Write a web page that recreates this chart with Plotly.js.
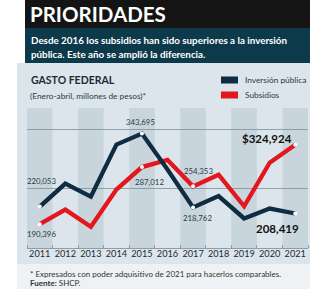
<!DOCTYPE html>
<html><head><meta charset="utf-8">
<script src="https://cdn.plot.ly/plotly-3.0.1.min.js"></script>
<style>html,body{margin:0;padding:0;background:#fff}#c{width:310px;height:289px}</style>
</head><body><div id="c"></div>
<script>
const years = [2011,2012,2013,2014,2015,2016,2017,2018,2019,2020,2021];
const inversion = [220053,259000,237000,325000,343695,283000,218762,238000,200000,216700,208419];
const subsidios = [190396,215000,186000,249000,287012,299000,254353,274000,220500,294500,324924];
const labeledIdx = [0,4,6,10];
const yearLabels = years.map(String);

const W=310,H=289,ML=27,MR=2,MT=108,MB=41;
const PW=W-ML-MR, PH=H-MT-MB;
const px=p=>(p-ML)/PW, py=p=>(H-MB-p)/PH;
const NAVY='#0f2d42', RED='#e3171e';
const F='Lato, "Open Sans", sans-serif';
const fmt=v=>v.toLocaleString('en-US');

const shapes=[
 {type:'rect',xref:'paper',yref:'paper',x0:px(17),x1:px(310),y0:py(289),y1:py(63),fillcolor:'#eef2f4',line:{width:0},layer:'below'},
 {type:'rect',xref:'paper',yref:'paper',x0:px(17),x1:px(310),y0:py(264),y1:py(63),fillcolor:'#dce5eb',line:{width:0},layer:'below'},
 {type:'rect',xref:'paper',yref:'paper',x0:px(25),x1:px(310),y0:py(28),y1:py(0),fillcolor:'#141414',line:{width:0},layer:'below'},
 {type:'rect',xref:'paper',yref:'paper',x0:px(25),x1:px(310),y0:py(63),y1:py(28),fillcolor:'#0d3a4b',line:{width:0},layer:'below'},
];
years.forEach((y,i)=>{ if(i%2===0) shapes.push({type:'rect',xref:'x',yref:'paper',x0:y-0.5,x1:y+0.5,y0:0,y1:1,fillcolor:'#c8d5dd',line:{width:0},layer:'below'}); });
function pill(x0,x1,yc,color){shapes.push({type:'line',xref:'paper',yref:'paper',x0:px(x0),x1:px(x1),y0:py(yc),y1:py(yc),line:{color:color,width:7}});}
pill(221,238,80,NAVY); pill(221,238,95,RED);

const ann=[
 {text:'<b>PRIORIDADES</b>',x:px(28),y:py(14),font:{size:20.5,color:'#fff',family:F,weight:900}},
 {text:'<b>Desde 2016 los subsidios han sido superiores a la inversión</b>',x:px(29),y:py(40),font:{size:9.8,color:'#fff',family:F}},
 {text:'<b>pública. Este año se amplió la diferencia.</b>',x:px(29),y:py(54),font:{size:9.8,color:'#fff',family:F}},
 {text:'<b>GASTO FEDERAL</b>',x:px(29),y:py(80),font:{size:10.5,color:'#1b2a33',family:F}},
 {text:'(Enero-abril, millones de pesos)*',x:px(28),y:py(96),font:{size:8.3,color:'#2a3a44',family:F}},
 {text:'Inversión pública',x:px(243),y:py(80),font:{size:8.3,color:'#2a3a44',family:F}},
 {text:'Subsidios',x:px(243),y:py(95),font:{size:8.3,color:'#2a3a44',family:F}},
 {text:'* Expresados con poder adquisitivo de 2021 para hacerlos comparables.',x:px(28),y:py(274),font:{size:8,color:'#333',family:F}},
 {text:'<b>Fuente:</b> SHCP.',x:px(28),y:py(283),font:{size:8,color:'#333',family:F}},
].map(a=>Object.assign({xref:'paper',yref:'paper',xanchor:'left',yanchor:'middle',showarrow:false},a));

const lab=(i,series,dy,dx,big)=>({xref:'x',yref:'y',x:years[i],y:series[i],xshift:dx,yshift:dy,showarrow:false,
 text:big?('<b>'+(big==='$'?'$':'')+fmt(series[i])+'</b>'):fmt(series[i]),
 font:{size:big?11.5:7.8,color:big?'#111':'#2a3a44',family:F}});
ann.push(lab(0,inversion,26,2), lab(0,subsidios,-10,2), lab(4,inversion,12,-1), lab(4,subsidios,-15,8),
 lab(6,subsidios,15,5), lab(6,inversion,-11,4), lab(10,subsidios,6,-28,'$'), lab(10,inversion,-15,-18,'b'));

const data=[
 {x:years,y:subsidios,type:'scatter',mode:'lines',line:{color:RED,width:4.3},hoverinfo:'skip'},
 {x:years,y:inversion,type:'scatter',mode:'lines',line:{color:NAVY,width:4.3},hoverinfo:'skip'},
 {x:labeledIdx.map(i=>years[i]).concat(labeledIdx.map(i=>years[i])),y:labeledIdx.map(i=>inversion[i]).concat(labeledIdx.map(i=>subsidios[i])),
  type:'scatter',mode:'markers',marker:{color:'#fff',size:4},hoverinfo:'skip'}
];
const layout={width:W,height:H,margin:{l:ML,r:MR,t:MT,b:MB},paper_bgcolor:'#fff',plot_bgcolor:'rgba(0,0,0,0)',showlegend:false,
 xaxis:{range:[2010.5,2021.5],tickvals:years,ticktext:yearLabels,ticks:'',showgrid:false,zeroline:false,showline:true,linecolor:'#8d9ca6',linewidth:1,
   ticklabelstandoff:-3,
   tickfont:{size:9.2,color:'#1b2a33',family:F},minor:{tick0:2010.5,dtick:1,ticks:'inside',ticklen:3,tickcolor:'#8d9ca6'}},
 yaxis:{range:[150000,387000],tickvals:[250000,350000],showticklabels:false,ticks:'',showgrid:true,gridcolor:'#7f9099',gridwidth:0.8,zeroline:false,showline:false},
 shapes:shapes,annotations:ann};
Plotly.newPlot('c',data,layout,{staticPlot:true,displayModeBar:false});
</script></body></html>
